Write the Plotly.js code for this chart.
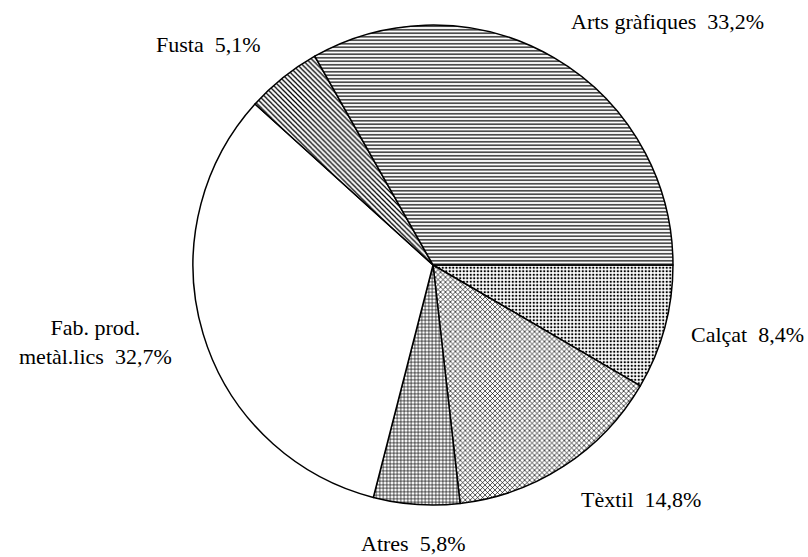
<!DOCTYPE html>
<html>
<head>
<meta charset="utf-8">
<script src="https://cdn.plot.ly/plotly-3.0.1.min.js"></script>
<style>html,body{margin:0;padding:0;background:#fff;}#chart{width:808px;height:557px;}</style>
</head>
<body>
<div id="chart"></div>
<script>
const categories = ["Calçat", "Tèxtil", "Atres", "Fab. prod.<br>metàl.lics", "Fusta", "Arts gràfiques"];
const values = [8.4, 14.8, 5.8, 32.7, 5.1, 33.2];
const patterns = [".", "x", "+", "", "\\", "-"];

// label anchor positions in pixels (layout only)
const labelPos = [[747, 334], [641, 499], [413, 543], [95, 342], [208, 45], [667, 21]];

const W = 808, H = 557;
const FONT = "Liberation Serif";

const texts = categories.map((c, i) => c + "\u00a0\u00a0" + values[i].toFixed(1).replace(".", ",") + "%");

const trace = {
  type: "pie",
  values: values,
  labels: categories,
  textinfo: "none",
  sort: false,
  direction: "clockwise",
  rotation: 90,
  hoverinfo: "none",
  showlegend: false,
  marker: {
    colors: ["#fff", "#fff", "#fff", "#fff", "#fff", "#fff"],
    line: {color: "#000", width: 1.5},
    pattern: {shape: patterns, fgcolor: "#000", bgcolor: "#fff", size: 3.5, solidity: 0.35}
  },
  domain: {x: [0.2389, 0.8329], y: [0.0934, 0.9551]}
};

const annotations = texts.map((t, i) => ({
  text: t,
  xref: "paper", yref: "paper",
  x: labelPos[i][0] / W,
  y: 1 - labelPos[i][1] / H,
  xanchor: "center", yanchor: "middle",
  showarrow: false,
  align: "center",
  font: {family: FONT, size: 22, color: "#000"}
}));

const layout = {
  width: W, height: H,
  margin: {l: 0, r: 0, t: 0, b: 0},
  paper_bgcolor: "#fff",
  plot_bgcolor: "#fff",
  font: {family: FONT, size: 22, color: "#000"},
  annotations: annotations
};

Plotly.newPlot("chart", [trace], layout, {staticPlot: true, displayModeBar: false});
</script>
</body>
</html>
